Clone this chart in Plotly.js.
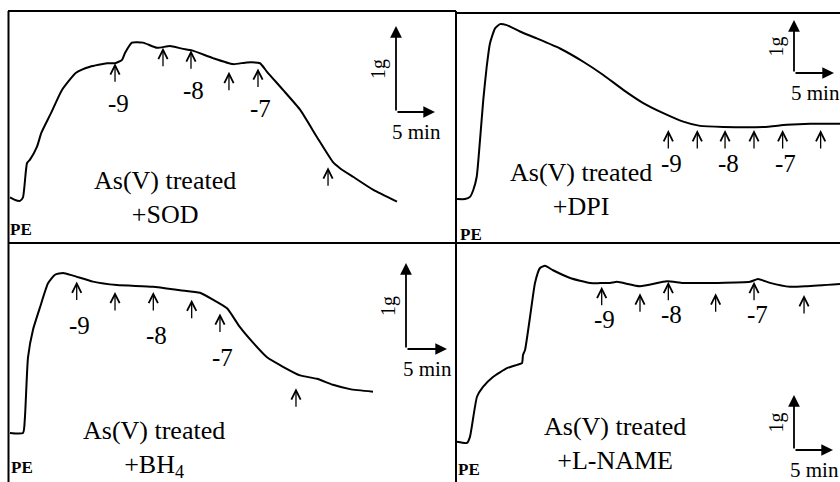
<!DOCTYPE html>
<html><head><meta charset="utf-8">
<script src="https://cdn.plot.ly/plotly-3.0.1.min.js"></script>
<style>html,body{margin:0;padding:0;background:#fff;}#chart{width:840px;height:482px;}</style>
</head><body><div id="chart"></div>
<script>
// ---------- DATA (time in min, tension in g) ----------
// Panel 1: As(V) treated + SOD
const sodTime    = [0.26,0.90,1.54,1.92,2.44,2.82,3.72,4.27,5.51,6.92,8.72,10.51,12.69,13.72,14.62,15.0,15.9,17.31,19.10,20.77,22.31,23.59,26.28,28.85,30.64,32.31,33.21,35.26,37.44,39.62,41.67,42.56,44.23,46.79,49.87];
const sodTension = [0.53,0.50,0.49,0.53,0.93,0.97,1.12,1.28,1.51,1.78,1.98,2.05,2.09,2.09,2.13,2.21,2.33,2.33,2.27,2.29,2.26,2.24,2.15,2.08,2.10,2.09,1.99,1.78,1.55,1.23,0.94,0.87,0.77,0.62,0.48];
const sodArrowTime    = [13.72,19.87,23.46,28.33,32.05,41.03];
const sodArrowTension = [2.09,2.27,2.24,1.99,2.03,0.88];

// Panel 2: As(V) treated + DPI
const dpiTime    = [0.13,1.13,1.75,2.16,2.59,3.0,3.41,3.84,4.25,4.88,5.5,6.34,8.0,10.09,13.0,15.91,18.41,20.91,23.41,25.91,28.41,30.5,33.41,38.41,41.34,44.25,48.0];
const dpiTension = [0.83,0.83,0.87,1.00,1.25,1.94,2.70,3.33,3.77,4.05,4.13,4.11,3.99,3.86,3.67,3.42,3.17,2.89,2.64,2.45,2.29,2.21,2.19,2.19,2.23,2.25,2.25];
const dpiArrowTime    = [26.54,30.16,33.63,37.25,40.83,45.58];
const dpiArrowTension = [2.13,2.13,2.13,2.13,2.13,2.13];

// Panel 3: As(V) treated + BH4
const bh4Time    = [0.24,1.83,2.07,2.44,3.05,3.90,4.88,5.73,6.71,7.93,10.37,13.29,17.68,20.98,23.41,25.0,26.71,28.29,29.88,31.59,33.54,35.61,37.68,39.63,41.71,44.51];
const bh4Tension = [0.57,0.57,0.76,1.45,1.77,2.03,2.31,2.41,2.43,2.40,2.33,2.29,2.27,2.23,2.20,2.12,2.02,1.80,1.62,1.45,1.34,1.24,1.20,1.13,1.08,1.05];
const bh4ArrowTime    = [8.38,13.05,17.72,22.40,25.85,35.12];
const bh4ArrowTension = [2.33,2.21,2.21,2.12,1.96,1.09];

// Panel 4: As(V) treated + L-NAME
const lnameTime    = [0.13,1.41,1.79,2.69,3.46,4.74,6.54,7.82,8.46,8.59,8.85,9.49,10.13,10.77,11.41,12.44,14.62,17.18,19.74,20.64,23.59,27.05,29.10,33.46,37.69,38.72,40.26,42.82,45.0,49.23];
const lnameTension = [0.73,0.71,0.82,1.55,1.73,1.91,2.07,2.13,2.16,2.31,2.40,3.00,3.62,3.89,3.93,3.85,3.71,3.62,3.62,3.64,3.56,3.65,3.62,3.62,3.64,3.69,3.62,3.55,3.56,3.60];
const lnameArrowTime    = [18.68,23.59,27.22,33.29,38.21,44.62];
const lnameArrowTension = [3.55,3.43,3.64,3.43,3.64,3.40];

// Concentration labels (log M) shown under the arrows
const arrowLabels = ['-9','','-8','','-7',''];
const panelTitles = ['As(V) treated<br>+SOD','As(V) treated<br>+DPI','As(V) treated<br>+BH<sub>4</sub>','As(V) treated<br>+L-NAME'];
const agonistLabel = 'PE';
const scaleTension = 1;   // g
const scaleTime = 5;      // min
const scaleTensionLabel = '1g';
const scaleTimeLabel = '5 min';

// ---------- LAYOUT ----------
const W = 840, H = 482;
const fx = px => px / W, fy = py => 1 - py / H;
const serif = 'Liberation Serif, Times New Roman, serif';

const panels = [
  {t: sodTime, g: sodTension, at: sodArrowTime, ag: sodArrowTension,
   box: [8, 11, 456, 243], ppm: 7.8, ppg: 86, bar: [396, 112], drop: 40, txt: [165, 197], pe: [21, 229]},
  {t: dpiTime, g: dpiTension, at: dpiArrowTime, ag: dpiArrowTension,
   box: [456, 13, 840, 243], ppm: 8.0, ppg: 53, bar: [794, 73], drop: 33, txt: [581, 190], pe: [471, 234]},
  {t: bh4Time, g: bh4Tension, at: bh4ArrowTime, ag: bh4ArrowTension,
   box: [8, 243, 456, 482], ppm: 8.2, ppg: 86, bar: [406, 349], drop: 44, txt: [154, 449], pe: [22, 467]},
  {t: lnameTime, g: lnameTension, at: lnameArrowTime, ag: lnameArrowTension,
   box: [456, 243, 840, 482], ppm: 7.8, ppg: 55, bar: [794, 450], drop: 33, txt: [615, 443], pe: [469, 469]}
];

const traces = [];
const annotations = [];
const layout = {
  width: W, height: H,
  margin: {l: 0, r: 0, t: 0, b: 0, pad: 0},
  paper_bgcolor: '#fff', plot_bgcolor: 'rgba(0,0,0,0)',
  showlegend: false,
  font: {family: serif, color: '#000'},
  annotations: annotations,
  shapes: []
};

panels.forEach((p, i) => {
  const n = i + 1;
  const xa = n === 1 ? 'xaxis' : 'xaxis' + n;
  const ya = n === 1 ? 'yaxis' : 'yaxis' + n;
  const xr = n === 1 ? 'x' : 'x' + n;
  const yr = n === 1 ? 'y' : 'y' + n;
  const [L, T, R, B] = p.box;
  layout[xa] = {domain: [fx(L), fx(R)], range: [0, (R - L) / p.ppm], visible: false, fixedrange: true, anchor: yr};
  layout[ya] = {domain: [fy(B), fy(T)], range: [0, (B - T) / p.ppg], visible: false, fixedrange: true, anchor: xr};

  traces.push({type: 'scatter', mode: 'lines', x: p.t, y: p.g, xaxis: xr, yaxis: yr,
    line: {color: '#000', width: 2, shape: 'spline', smoothing: 0.5}, hoverinfo: 'skip'});

  // agonist addition arrows and concentration labels
  p.at.forEach((t, k) => {
    annotations.push({xref: xr, yref: yr, x: t, y: p.ag[k], text: '', showarrow: true,
      ax: 0, ay: 20, arrowhead: 5, arrowsize: 1.4, arrowwidth: 1.3, arrowcolor: '#000', standoff: 0});
    if (arrowLabels[k]) {
      annotations.push({xref: xr, yref: yr, x: t, y: p.ag[k], text: arrowLabels[k], showarrow: false,
        xshift: 3, yshift: -p.drop, xanchor: 'center', yanchor: 'middle',
        font: {family: serif, size: 25, color: '#000'}});
    }
  });

  // scale bars (1 g vertical, 5 min horizontal)
  const x0 = (p.bar[0] - L) / p.ppm, y0 = (B - p.bar[1]) / p.ppg;
  annotations.push({xref: xr, yref: yr, axref: xr, ayref: yr, x: x0, y: y0 + scaleTension, ax: x0, ay: y0,
    text: '', showarrow: true, arrowhead: 2, arrowsize: 1.3, arrowwidth: 1.8, arrowcolor: '#000', standoff: 0});
  annotations.push({xref: xr, yref: yr, axref: xr, ayref: yr, x: x0 + scaleTime, y: y0, ax: x0, ay: y0,
    text: '', showarrow: true, arrowhead: 2, arrowsize: 1.3, arrowwidth: 1.8, arrowcolor: '#000', standoff: 0});
  annotations.push({xref: xr, yref: yr, x: x0, y: y0 + scaleTension / 2, text: scaleTensionLabel,
    showarrow: false, textangle: -90, xshift: -18, font: {family: serif, size: 20, color: '#000'}});
  annotations.push({xref: xr, yref: yr, x: x0 + scaleTime / 2, y: y0, text: scaleTimeLabel,
    showarrow: false, yshift: -20, xshift: 1, font: {family: serif, size: 21, color: '#000'}});

  // panel title and PE label
  annotations.push({xref: 'paper', yref: 'paper', x: fx(p.txt[0]), y: fy(p.txt[1]), text: panelTitles[i],
    showarrow: false, xanchor: 'center', yanchor: 'middle', align: 'center',
    font: {family: serif, size: 26, color: '#000'}});
  annotations.push({xref: 'paper', yref: 'paper', x: fx(p.pe[0]), y: fy(p.pe[1]), text: '<b>' + agonistLabel + '</b>',
    showarrow: false, xanchor: 'center', yanchor: 'middle',
    font: {family: serif, size: 17, color: '#000'}});
});

// frame lines
const seg = (x0, y0, x1, y1) => ({type: 'line', xref: 'paper', yref: 'paper',
  x0: fx(x0), y0: fy(y0), x1: fx(x1), y1: fy(y1), line: {color: '#000', width: 2}});
layout.shapes.push(seg(8, 11, 456, 11), seg(456, 13, 840, 13), seg(8.5, 11, 8.5, 482),
  seg(456, 11, 456, 482), seg(8, 243, 840, 243));

Plotly.newPlot('chart', traces, layout, {staticPlot: true, displayModeBar: false});
</script>
</body></html>
